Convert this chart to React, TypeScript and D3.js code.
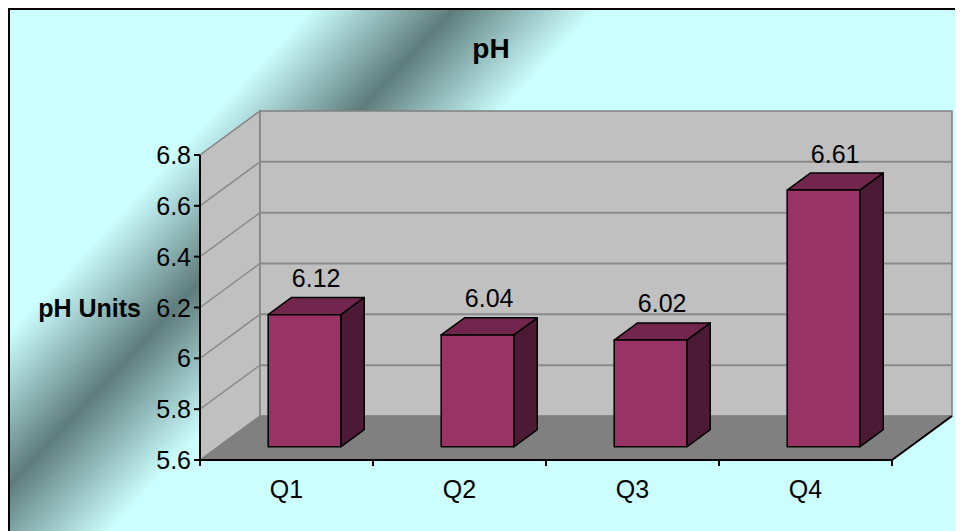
import React from "react";
import * as d3 from "d3";

// Quarterly pH readings
const categories = ["Q1", "Q2", "Q3", "Q4"];
const values = [6.12, 6.04, 6.02, 6.61];
const yTicks = [5.6, 5.8, 6.0, 6.2, 6.4, 6.6, 6.8];
const yTickLabels = ["5.6", "5.8", "6", "6.2", "6.4", "6.6", "6.8"];
const title = "pH";
const yTitle = "pH Units";

const W = 963;
const H = 531;

// Front plane of the 3D box (page coordinates)
const x0 = 200;
const x1 = 892;
const yBottom = 460;
const yTop = 155;
// Full depth offset of the box
const DX = 60;
const DY = -44;
// Depth range occupied by the columns (fraction of full depth)
const fFront = 0.3;
const fBack = 0.69;

const FONT = "'Liberation Sans', Arial, sans-serif";

export default function App() {
  const x = d3.scaleBand<string>().domain(categories).range([x0, x1]).padding(0);
  const y = d3.scaleLinear().domain([5.6, 6.8]).range([yBottom, yTop]);
  const barW = x.bandwidth() * 0.42;

  const at = (px: number, py: number, f: number): [number, number] => [px + DX * f, py + DY * f];
  const poly = (pts: [number, number][]) => pts.map((p) => p.join(",")).join(" ");

  const sideWall = poly([at(x0, yTop, 0), at(x0, yTop, 1), at(x0, yBottom, 1), at(x0, yBottom, 0)]);
  const backWall = poly([at(x0, yTop, 1), at(x1, yTop, 1), at(x1, yBottom, 1), at(x0, yBottom, 1)]);
  const floor = poly([at(x0, yBottom, 0), at(x1, yBottom, 0), at(x1, yBottom, 1), at(x0, yBottom, 1)]);

  const boundaries = [...categories.map((c) => x(c) as number), x1];

  return (
    <svg width={W - 8} height={H - 8} style={{ display: "block" }}>
      <defs>
        <linearGradient id="bg" gradientUnits="userSpaceOnUse" x1={-23} y1={8} x2={488} y2={485}>
          <stop offset="0" stopColor="#CCFFFF" />
          <stop offset="0.35" stopColor="#CCFFFF" />
          <stop offset="0.5" stopColor="#5F7C7C" />
          <stop offset="0.65" stopColor="#CCFFFF" />
          <stop offset="1" stopColor="#CCFFFF" />
        </linearGradient>
      </defs>
      <g transform="translate(-8,-8)">
        <rect x={9} y={9} width={1000} height={1000} fill="url(#bg)" stroke="#000" strokeWidth={2} />

        {/* walls and floor */}
        <polygon points={sideWall} fill="#C0C0C0" stroke="#808080" strokeWidth={1.5} />
        <polygon points={backWall} fill="#C0C0C0" stroke="#808080" strokeWidth={1.5} />
        {yTicks.slice(1, -1).map((t) => {
          const [bx, by] = at(x0, y(t), 1);
          const [ex, ey] = at(x1, y(t), 1);
          return (
            <g key={"g" + t}>
              <line x1={x0} y1={y(t)} x2={bx} y2={by} stroke="#8A8A8A" strokeWidth={1.5} />
              <line x1={bx} y1={by} x2={ex} y2={ey} stroke="#8A8A8A" strokeWidth={2} />
            </g>
          );
        })}
        <polygon points={floor} fill="#808080" stroke="#808080" strokeWidth={1} />
        <polyline
          points={poly([at(x0, yBottom, 0), at(x1, yBottom, 0), at(x1, yBottom, 1)])}
          fill="none"
          stroke="#000"
          strokeWidth={2}
        />

        {/* value axis */}
        <line x1={x0} y1={yTop} x2={x0} y2={yBottom} stroke="#000" strokeWidth={2} />
        {yTicks.map((t, i) => (
          <g key={"t" + t}>
            <line x1={x0 - 6} y1={y(t)} x2={x0} y2={y(t)} stroke="#000" strokeWidth={2} />
            <text
              x={191}
              y={y(t)}
              dy="0.36em"
              textAnchor="end"
              fontFamily={FONT}
              fontSize={25}
              fill="#000"
            >
              {yTickLabels[i]}
            </text>
          </g>
        ))}

        {/* category axis */}
        {boundaries.map((b, i) => (
          <line key={"c" + i} x1={b} y1={yBottom} x2={b} y2={yBottom + 6} stroke="#000" strokeWidth={2} />
        ))}
        {categories.map((c) => (
          <text
            key={"l" + c}
            x={(x(c) as number) + x.bandwidth() / 2}
            y={498}
            textAnchor="middle"
            fontFamily={FONT}
            fontSize={25}
            fill="#000"
          >
            {c}
          </text>
        ))}

        {/* columns */}
        {categories.map((c, i) => {
          const cx = (x(c) as number) + x.bandwidth() / 2;
          const l = cx - barW / 2;
          const r = cx + barW / 2;
          const top = y(values[i]);
          const front = poly([at(l, top, fFront), at(r, top, fFront), at(r, yBottom, fFront), at(l, yBottom, fFront)]);
          const lid = poly([at(l, top, fFront), at(r, top, fFront), at(r, top, fBack), at(l, top, fBack)]);
          const side = poly([at(r, top, fFront), at(r, top, fBack), at(r, yBottom, fBack), at(r, yBottom, fFront)]);
          const [lx, ly] = at(cx, top, (fFront + fBack) / 2);
          return (
            <g key={"b" + c}>
              <polygon points={side} fill="#4D1A35" stroke="#000" strokeWidth={1.5} strokeLinejoin="round" />
              <polygon points={lid} fill="#73264D" stroke="#000" strokeWidth={1.5} strokeLinejoin="round" />
              <polygon points={front} fill="#993366" stroke="#000" strokeWidth={1.5} strokeLinejoin="round" />
              <text
                x={lx}
                y={ly - 19}
                textAnchor="middle"
                fontFamily={FONT}
                fontSize={25}
                fill="#000"
              >
                {values[i].toFixed(2)}
              </text>
            </g>
          );
        })}

        {/* titles */}
        <text x={491} y={58} textAnchor="middle" fontFamily={FONT} fontSize={28} fontWeight="bold" fill="#000">
          {title}
        </text>
        <text x={141} y={y(6.2)} dy="0.36em" textAnchor="end" fontFamily={FONT} fontSize={25} fontWeight="bold" fill="#000">
          {yTitle}
        </text>
      </g>
    </svg>
  );
}
